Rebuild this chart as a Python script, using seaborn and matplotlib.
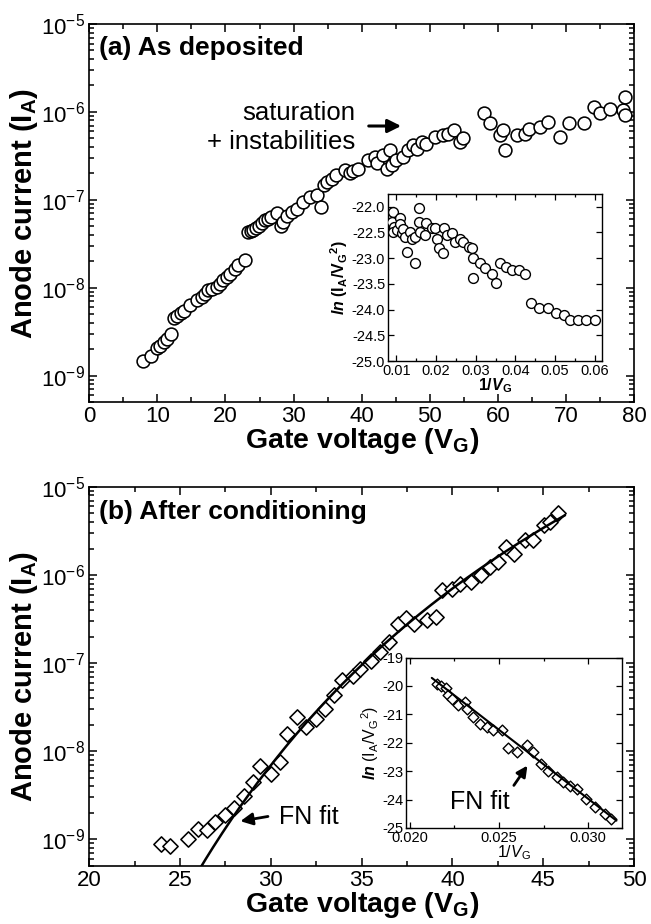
import numpy as np
import pandas as pd
import matplotlib
matplotlib.use("Agg")
import matplotlib.pyplot as plt
import seaborn as sns
from matplotlib.ticker import LogLocator, MultipleLocator, NullFormatter, LogFormatterSciNotation, FormatStrFormatter

# ---------------- data ----------------
# (a) As deposited : gate voltage (V) and anode current (A)
a_vg = [7.9, 9.0, 9.9, 10.4, 10.9, 11.4, 12.0, 12.4, 12.9, 13.4, 13.9, 14.8, 15.8, 16.5,
        17.0, 17.5, 18.0, 18.7, 19.2, 19.7, 20.2, 20.7, 21.4, 21.9, 22.9,
        23.3, 23.7, 24.0, 24.5, 24.9, 25.4, 25.8, 26.3, 26.7, 27.5, 28.2, 28.5, 29.0, 29.7,
        30.5, 31.4, 32.4, 33.5, 34.0, 34.4, 34.9, 35.6, 36.3, 37.5, 38.3, 38.8, 39.5,
        41.0, 42.0, 42.2, 43.2, 43.7, 44.2, 44.4, 45.1, 46.1, 46.8, 47.6, 48.1, 48.8, 49.5,
        50.8, 52.0, 52.7, 53.5, 54.4, 54.9, 57.9, 58.8, 60.3, 60.8, 61.1, 62.8, 64.0, 64.6,
        66.2, 67.4, 69.2, 70.4, 72.6, 74.1, 75.0, 76.5, 78.4, 78.7, 78.7]
a_ia = [1.46e-9, 1.65e-9, 2.06e-9, 2.16e-9, 2.4e-9, 2.6e-9, 2.95e-9, 4.57e-9, 4.8e-9, 5.1e-9,
        5.5e-9, 6.3e-9, 7.2e-9, 7.8e-9, 8.5e-9, 9.3e-9, 9.7e-9, 1.03e-8, 1.11e-8, 1.21e-8,
        1.32e-8, 1.44e-8, 1.64e-8, 1.8e-8, 2.08e-8,
        4.3e-8, 4.4e-8, 4.5e-8, 4.8e-8, 5.1e-8, 5.5e-8, 5.9e-8, 6.1e-8, 6.3e-8, 7.0e-8,
        5.1e-8, 5.6e-8, 6.6e-8, 7.2e-8, 7.9e-8, 9.4e-8, 1.08e-7, 1.12e-7, 8.3e-8, 1.46e-7,
        1.6e-7, 1.73e-7, 1.9e-7, 2.2e-7, 2.0e-7, 2.1e-7, 2.27e-7, 2.8e-7, 3.1e-7, 2.6e-7,
        3.2e-7, 2.27e-7, 3.7e-7, 2.5e-7, 2.8e-7, 3.1e-7, 3.7e-7, 4.2e-7, 3.8e-7, 4.55e-7,
        4.3e-7, 5.2e-7, 5.4e-7, 5.6e-7, 6.2e-7, 4.5e-7, 5.1e-7, 9.6e-7, 7.5e-7, 5.4e-7,
        6.2e-7, 3.7e-7, 5.4e-7, 5.6e-7, 6.4e-7, 6.7e-7, 7.7e-7, 5.2e-7, 7.4e-7, 7.4e-7,
        1.15e-6, 9.6e-7, 1.09e-6, 1.05e-6, 1.48e-6, 9.2e-7]

# (a) inset : 1/VG and ln(IA/VG^2)
ai_x = [0.0092, 0.0089, 0.0093, 0.0092, 0.0102, 0.0108, 0.0110, 0.0114, 0.0118, 0.0122,
        0.0127, 0.0135, 0.0140, 0.0148, 0.0148, 0.0156, 0.0156, 0.0160, 0.0175, 0.0173,
        0.0190, 0.0198, 0.0202, 0.0207, 0.0217, 0.0221, 0.0227, 0.0240, 0.0248, 0.0261,
        0.0269, 0.0282, 0.0290, 0.0293, 0.0294, 0.0311, 0.0324, 0.0341, 0.0351, 0.0361,
        0.0377, 0.0392, 0.0408, 0.0424, 0.0439, 0.0460, 0.0481, 0.0501, 0.0522, 0.0538,
        0.0558, 0.0579, 0.0600]
ai_y = [-22.11, -22.29, -22.39, -22.49, -22.46, -22.23, -22.33, -22.52, -22.43, -22.59,
        -22.89, -22.49, -22.62, -23.10, -22.59, -22.02, -22.29, -22.49, -22.31, -22.56,
        -22.41, -22.41, -22.62, -22.81, -22.91, -22.41, -22.56, -22.52, -22.68, -22.62,
        -22.68, -22.78, -22.80, -23.38, -22.99, -23.10, -23.20, -23.30, -23.49, -23.10,
        -23.17, -23.23, -23.23, -23.30, -23.88, -23.97, -23.97, -24.07, -24.10, -24.20,
        -24.20, -24.20, -24.20]

# (b) After conditioning
b_vg = [23.94, 24.45, 25.43, 25.96, 26.46, 26.92, 27.5, 27.95, 28.5, 29.0, 29.4, 30.0, 30.5,
        30.9, 31.46, 31.96, 32.5, 33.0, 33.5, 33.9, 34.5, 34.9, 35.5, 36.0, 36.5, 37.0,
        37.46, 37.9, 38.6, 39.07, 39.4, 40.0, 40.4, 41.0, 41.6, 42.05, 42.5, 42.97, 43.4,
        44.0, 44.46, 45.03, 45.37, 45.83]
b_ia = [8.9e-10, 8.5e-10, 1.02e-9, 1.3e-9, 1.27e-9, 1.58e-9, 1.87e-9, 2.3e-9, 3.15e-9,
        4.45e-9, 6.9e-9, 5.6e-9, 7.6e-9, 1.58e-8, 2.44e-8, 1.9e-8, 2.34e-8, 3.0e-8, 4.3e-8,
        6.4e-8, 7.25e-8, 8.7e-8, 1.07e-7, 1.34e-7, 1.74e-7, 2.8e-7, 3.3e-7, 2.8e-7, 3.1e-7,
        3.34e-7, 6.7e-7, 7.0e-7, 8.0e-7, 8.3e-7, 9.9e-7, 1.24e-6, 1.4e-6, 2.1e-6, 1.75e-6,
        2.5e-6, 2.5e-6, 3.7e-6, 4.0e-6, 5.0e-6]

# (b) inset
bi_x = [0.02151, 0.02175, 0.02201, 0.02216, 0.02235, 0.02272, 0.02310, 0.02319, 0.02356,
        0.02394, 0.02431, 0.02468, 0.02515, 0.02552, 0.02599, 0.02655, 0.02692, 0.02735,
        0.02776, 0.02823, 0.02860, 0.02897, 0.02935, 0.02991, 0.03037, 0.03093, 0.03131]
bi_y = [-19.92, -20.01, -20.09, -20.31, -20.45, -20.68, -20.56, -20.80, -21.09, -21.33,
        -21.45, -21.56, -21.56, -22.19, -22.33, -22.09, -22.33, -22.74, -22.98, -23.21,
        -23.39, -23.51, -23.62, -23.98, -24.27, -24.51, -24.68]

# Fowler-Nordheim fit: ln(I/V^2) = FN_LNA - FN_B / V
FN_LNA = -9.42
FN_B = 485.0
fit_v_range = [26.0, 46.2]
fit_inv_range = [0.02123, 0.03159]

# ---------------- style ----------------
sns.set_theme(style="ticks")
plt.rcParams.update({
    "font.family": ["Liberation Sans", "DejaVu Sans"],
    "mathtext.fontset": "custom",
    "mathtext.rm": "Liberation Sans",
    "mathtext.it": "Liberation Sans:italic:bold",
    "mathtext.bf": "Liberation Sans:bold",
    "mathtext.sf": "Liberation Sans:italic",
    "mathtext.default": "regular",
    "axes.unicode_minus": False,
    "axes.linewidth": 1.2,
    "axes.edgecolor": "black",
    "xtick.color": "black",
    "ytick.color": "black",
    "text.color": "black",
    "axes.labelcolor": "black",
})

fig = plt.figure(figsize=(6.51, 9.24), dpi=100)
axA = fig.add_axes([0.1372, 0.5649, 0.8367, 0.4091])
axB = fig.add_axes([0.1372, 0.0628, 0.8367, 0.4102])
insA = fig.add_axes([0.5960, 0.6093, 0.3287, 0.1810])
insB = fig.add_axes([0.6241, 0.1039, 0.3313, 0.1845])


def style_main(ax):
    ax.set_yscale("log")
    ax.set_ylim(5e-10, 1e-5)
    ax.yaxis.set_major_locator(LogLocator(base=10, numticks=10))
    ax.yaxis.set_minor_locator(LogLocator(base=10, subs=np.arange(2, 10), numticks=20))
    ax.yaxis.set_major_formatter(LogFormatterSciNotation())
    ax.yaxis.set_minor_formatter(NullFormatter())
    ax.tick_params(which="both", direction="in", top=True, right=True, width=1.1, colors="black")
    ax.tick_params(which="major", length=6, labelsize=16, pad=3)
    ax.tick_params(which="minor", length=3.5)
    for s in ax.spines.values():
        s.set_visible(True)
        s.set_linewidth(1.2)
        s.set_color("black")


def style_inset(ax):
    ax.tick_params(which="both", direction="in", top=True, right=True, width=0.9, colors="black")
    ax.tick_params(which="major", length=4, labelsize=10.5, pad=2)
    ax.tick_params(which="minor", length=2.5)
    for s in ax.spines.values():
        s.set_visible(True)
        s.set_linewidth(1.0)
        s.set_color("black")


# ---- panel (a)
dfa = pd.DataFrame({"vg": a_vg, "ia": a_ia})
sns.scatterplot(data=dfa, x="vg", y="ia", marker="o", s=85, color="white",
                edgecolor="black", linewidth=1.15, ax=axA, zorder=3)
style_main(axA)
axA.set_xlim(0, 80)
axA.xaxis.set_major_locator(MultipleLocator(10))
axA.xaxis.set_minor_locator(MultipleLocator(5))
axA.set_xlabel(r"Gate voltage (V$_\mathbf{G}$)", fontsize=20.5, fontweight="bold", labelpad=-1)
axA.set_ylabel(r"Anode current (I$_\mathbf{A}$)", fontsize=21, fontweight="bold", labelpad=1)
axA.text(0.018, 0.9365, "(a) As deposited", transform=axA.transAxes, fontsize=19,
         fontweight="bold", ha="left", va="center")
axA.text(0.4878, 0.7646, "saturation", transform=axA.transAxes, fontsize=18.5, ha="right", va="center")
axA.text(0.4878, 0.6878, "+ instabilities", transform=axA.transAxes, fontsize=18.5, ha="right", va="center")
axA.annotate("", xy=(0.5775, 0.7302), xytext=(0.5079, 0.7302), xycoords="axes fraction",
             arrowprops=dict(arrowstyle="-|>", lw=2.2, color="black", mutation_scale=20))

dfai = pd.DataFrame({"x": ai_x, "y": ai_y})
sns.scatterplot(data=dfai, x="x", y="y", marker="o", s=50, color="white",
                edgecolor="black", linewidth=1.0, ax=insA, zorder=3)
style_inset(insA)
insA.set_xlim(0.0079, 0.0618)
insA.set_ylim(-25.0, -21.75)
insA.xaxis.set_major_locator(MultipleLocator(0.01))
insA.xaxis.set_minor_locator(MultipleLocator(0.005))
insA.yaxis.set_major_locator(MultipleLocator(0.5))
insA.xaxis.set_major_formatter(FormatStrFormatter("%.2f"))
insA.yaxis.set_major_formatter(FormatStrFormatter("%.1f"))
insA.set_xlabel(r"1/$\mathit{V}_\mathbf{G}$", fontsize=11.5, fontweight="bold", labelpad=-1)
insA.set_ylabel(r"$\mathit{ln}$ (I$_\mathbf{A}$/V$_\mathbf{G}$$^\mathbf{2}$)", fontsize=11.5,
                fontweight="bold", labelpad=1)

# ---- panel (b)
dfb = pd.DataFrame({"vg": b_vg, "ia": b_ia})
sns.scatterplot(data=dfb, x="vg", y="ia", marker="D", s=60, color="white",
                edgecolor="black", linewidth=1.15, ax=axB, zorder=3)
vfit = np.linspace(fit_v_range[0], fit_v_range[1], 200)
dffit = pd.DataFrame({"vg": vfit, "ia": vfit ** 2 * np.exp(FN_LNA - FN_B / vfit)})
sns.lineplot(data=dffit, x="vg", y="ia", color="black", lw=1.8, ax=axB, zorder=4, sort=False)
style_main(axB)
axB.set_xlim(20, 50)
axB.xaxis.set_major_locator(MultipleLocator(5))
axB.xaxis.set_minor_locator(MultipleLocator(2.5))
axB.set_xlabel(r"Gate voltage (V$_\mathbf{G}$)", fontsize=20.5, fontweight="bold", labelpad=-1)
axB.set_ylabel(r"Anode current (I$_\mathbf{A}$)", fontsize=21, fontweight="bold", labelpad=1)
axB.text(0.018, 0.9349, "(b) After conditioning", transform=axB.transAxes, fontsize=19,
         fontweight="bold", ha="left", va="center")
axB.text(0.3483, 0.130, "FN fit", transform=axB.transAxes, fontsize=18, ha="left", va="center")
axB.annotate("", xy=(0.2723, 0.1169), xytext=(0.3330, 0.1319), xycoords="axes fraction",
             arrowprops=dict(arrowstyle="-|>", lw=2.0, color="black", mutation_scale=18))

dfbi = pd.DataFrame({"x": bi_x, "y": bi_y})
sns.scatterplot(data=dfbi, x="x", y="y", marker="D", s=30, color="white",
                edgecolor="black", linewidth=1.0, ax=insB, zorder=3)
xinv = np.linspace(fit_inv_range[0], fit_inv_range[1], 50)
dfifit = pd.DataFrame({"x": xinv, "y": FN_LNA - FN_B * xinv})
sns.lineplot(data=dfifit, x="x", y="y", color="black", lw=1.5, ax=insB, zorder=4, sort=False)
style_inset(insB)
insB.set_xlim(0.0198, 0.0319)
insB.set_ylim(-25, -19)
insB.xaxis.set_major_locator(MultipleLocator(0.005))
insB.xaxis.set_minor_locator(MultipleLocator(0.0025))
insB.yaxis.set_major_locator(MultipleLocator(1))
insB.xaxis.set_major_formatter(FormatStrFormatter("%.3f"))
insB.yaxis.set_major_formatter(FormatStrFormatter("%d"))
insB.set_xlabel(r"1/$\mathsf{V}_G$", fontsize=11.5, labelpad=-1)
insB.set_ylabel(r"$\mathit{ln}$ (I$_A$/V$_G$$^2$)", fontsize=11.5, labelpad=1)
insB.text(0.2026, 0.1543, "FN fit", transform=insB.transAxes, fontsize=18, ha="left", va="center")
insB.annotate("", xy=(0.5689, 0.3795), xytext=(0.4914, 0.2364), xycoords="axes fraction",
              arrowprops=dict(arrowstyle="-|>", lw=2.0, color="black", mutation_scale=16))

fig.savefig("out.png", dpi=100)
